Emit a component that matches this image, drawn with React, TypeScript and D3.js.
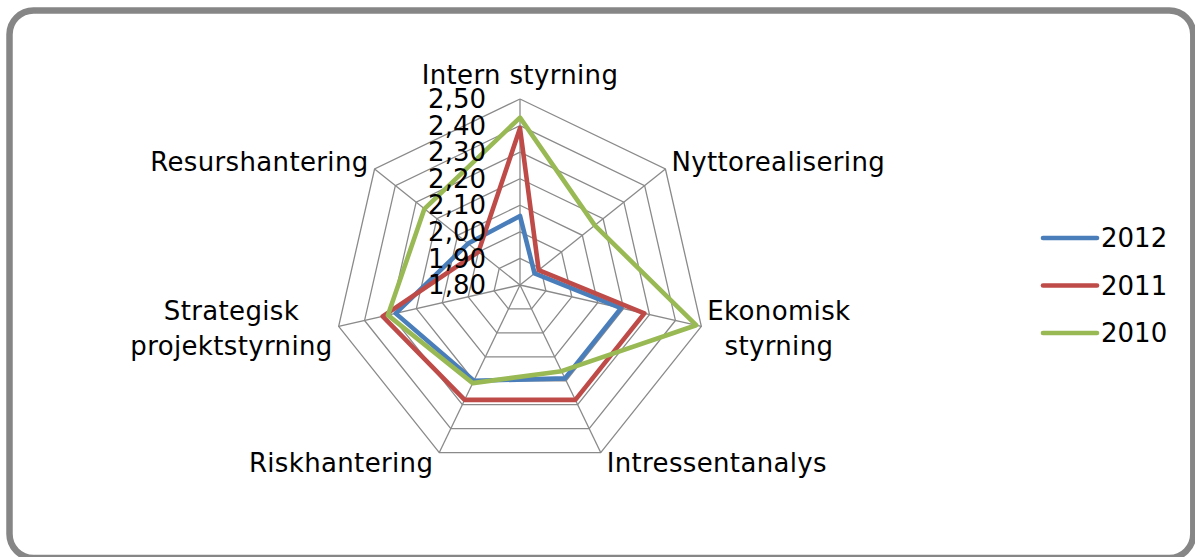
import React, { useEffect, useRef } from "react";
import * as d3 from "d3";

const categories: string[][] = [
  ["Intern styrning"],
  ["Nyttorealisering"],
  ["Ekonomisk", "styrning"],
  ["Intressentanalys"],
  ["Riskhantering"],
  ["Strategisk", "projektstyrning"],
  ["Resurshantering"],
];
const seriesNames = ["2012", "2011", "2010"];
const values2012 = [2.06, 1.87, 2.19, 2.19, 2.2, 2.28, 2.05];
const values2011 = [2.39, 1.89, 2.28, 2.28, 2.28, 2.33, 2.0];
const values2010 = [2.43, 2.16, 2.48, 2.16, 2.21, 2.31, 2.26];
const ticks = [1.8, 1.9, 2.0, 2.1, 2.2, 2.3, 2.4, 2.5];
const colors = ["#4a7ebb", "#be4b48", "#98b954"];

const W = 1195;
const H = 557;
const FONT = "'DejaVu Sans', Verdana, sans-serif";

export default function App() {
  const ref = useRef<SVGSVGElement>(null);
  useEffect(() => {
    const svg = d3.select(ref.current);
    svg.selectAll("*").remove();
    const cx = 520;
    const cy = 285;
    const R = 186;
    const n = categories.length;
    const r = d3.scaleLinear().domain([1.8, 2.5]).range([0, R]);
    const ang = (i: number) => (i * 2 * Math.PI) / n;
    const pt = (i: number, rad: number): [number, number] => [
      cx + Math.sin(ang(i)) * rad,
      cy - Math.cos(ang(i)) * rad,
    ];

    // frame
    svg
      .append("rect")
      .attr("x", 9.5)
      .attr("y", 10.5)
      .attr("width", 1183.8)
      .attr("height", 547.5)
      .attr("rx", 24)
      .attr("fill", "#fff")
      .attr("stroke", "#868686")
      .attr("stroke-width", 6.5);

    const g = svg.append("g");
    // rings
    ticks.slice(1).forEach((t) => {
      const pts = d3.range(n).map((i) => pt(i, r(t)));
      g.append("path")
        .attr("d", d3.line()([...pts, pts[0]]) as string)
        .attr("fill", "none")
        .attr("stroke", "#8a8a8a")
        .attr("stroke-width", 1.3);
    });
    // spokes
    d3.range(n).forEach((i) => {
      const [x, y] = pt(i, R);
      g.append("line")
        .attr("x1", cx)
        .attr("y1", cy)
        .attr("x2", x)
        .attr("y2", y)
        .attr("stroke", "#8a8a8a")
        .attr("stroke-width", 1.3);
    });

    // series
    const allSeries = [values2012, values2011, values2010];
    const lineGen = d3
      .lineRadial<number>()
      .angle((_, i) => ang(i))
      .radius((d) => r(d))
      .curve(d3.curveLinearClosed);
    allSeries.forEach((vals, si) => {
      g.append("path")
        .attr("transform", `translate(${cx},${cy})`)
        .attr("d", lineGen(vals) as string)
        .attr("fill", "none")
        .attr("stroke", colors[si])
        .attr("stroke-width", 4.6)
        .attr("stroke-linejoin", "round");
    });

    // category labels
    const lineH = 35;
    categories.forEach((lines, i) => {
      const [vx, vy] = pt(i, R);
      const s = Math.sin(ang(i));
      const c = Math.cos(ang(i));
      let centerY = vy - c * 11;
      let anchor = "middle";
      let x = vx;
      if (Math.abs(s) < 0.1) {
        centerY = vy - 13 - c * 11;
      } else if (s > 0) {
        anchor = "start";
        x = vx + 6;
      } else {
        anchor = "end";
        x = vx - 6;
      }
      const t = svg
        .append("text")
        .attr("font-family", FONT)
        .attr("font-size", 26)
        .attr("letter-spacing", 0.35)
        .attr("fill", "#000");
      const tspans = lines.map((ln, li) =>
        t
          .append("tspan")
          .attr("x", x)
          .attr("y", centerY + (li - (lines.length - 1) / 2) * lineH)
          .attr("dy", "0.35em")
          .attr("text-anchor", anchor)
          .text(ln)
      );
      if (lines.length > 1) {
        const widths = tspans.map((ts) => (ts.node() as SVGTSpanElement).getComputedTextLength());
        const maxW = Math.max(...widths);
        const mid = anchor === "start" ? x + maxW / 2 : x - maxW / 2;
        tspans.forEach((ts) => ts.attr("x", mid).attr("text-anchor", "middle"));
      }
    });

    // tick labels
    const fmt = d3.format(".2f");
    ticks.forEach((t) => {
      svg
        .append("text")
        .attr("x", cx - 34)
        .attr("y", cy - r(t))
        .attr("dy", "0.35em")
        .attr("text-anchor", "end")
        .attr("font-family", FONT)
        .attr("font-size", 26)
        .attr("fill", "#000")
        .text(fmt(t).replace(".", ","));
    });

    // legend
    const legY = d3.scalePoint<string>().domain(seriesNames).range([238, 333]);
    seriesNames.forEach((name, si) => {
      const y = legY(name) as number;
      svg
        .append("line")
        .attr("x1", 1043)
        .attr("x2", 1097)
        .attr("y1", y)
        .attr("y2", y)
        .attr("stroke", colors[si])
        .attr("stroke-width", 4.6)
        .attr("stroke-linecap", "round");
      svg
        .append("text")
        .attr("x", 1101)
        .attr("y", y)
        .attr("dy", "0.35em")
        .attr("font-family", FONT)
        .attr("font-size", 26)
        .attr("fill", "#000")
        .text(name);
    });
  }, []);
  return (
    <>
      <style>{"body{margin:0;}"}</style>
      <svg ref={ref} width={W} height={H} style={{ display: "block" }} />
    </>
  );
}
